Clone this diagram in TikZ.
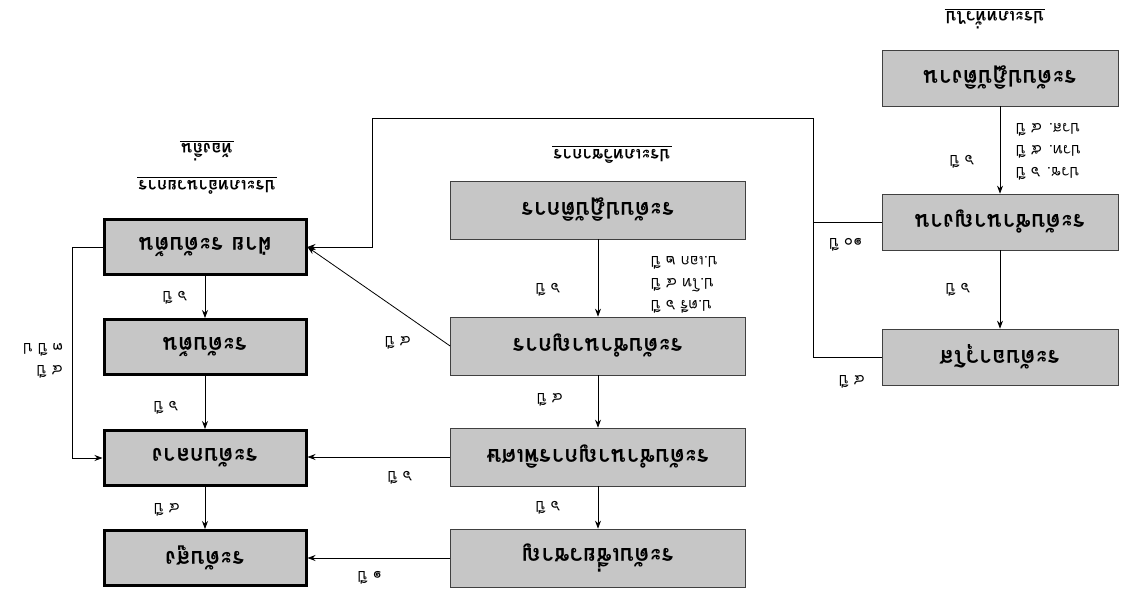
\documentclass[tikz,border=0pt]{standalone}
\usepackage{fontspec}
\newfontfamily\thai[Script=Thai]{Loma}
\usetikzlibrary{arrows.meta}
\newcommand{\rt}[1]{\rotatebox[origin=c]{180}{#1}}
\tikzset{
  box/.style={draw=black!75, line width=0.7pt, fill=gray!45, minimum width=236pt, minimum height=56pt, inner sep=0pt, font=\thai\bfseries\fontsize{23}{27}\selectfont},
  cbox/.style={box, minimum width=295pt, minimum height=58pt},
  tbox/.style={box, draw=black, line width=3pt, minimum width=202pt, minimum height=55pt},
  lbl/.style={font=\thai\fontsize{15}{22}\selectfont, inner sep=1pt},
  hdr/.style={font=\thai\bfseries\fontsize{17}{20}\selectfont, inner sep=1pt},
  conn/.style={line width=0.8pt},
  arr/.style={conn, -{Stealth[length=8pt,width=6pt]}},
}
\begin{document}
\begin{tikzpicture}[x=1pt,y=-1pt]
\useasboundingbox[fill=white] (0,0) rectangle (1128,595);
% headers
\node[hdr] (hR) at (995,20) {\rt{ประเภททั่วไป}};
\node[hdr] (hC) at (612,156) {\rt{ประเภทวิชาการ}};
\node[hdr] (hL1) at (207,152) {\rt{ท้องถิ่น}};
\node[hdr] (hL2) at (207,187) {\rt{ประเภทอำนวยการ}};
\foreach \h in {hR,hC,hL1,hL2}
  \draw[conn] ([yshift=1pt]\h.north west) -- ([yshift=1pt]\h.north east);
% boxes
\node[box] (R1) at (1000,78) {\rt{ระดับปฏิบัติงาน}};
\node[box] (R2) at (1000,222) {\rt{ระดับชำนาญงาน}};
\node[box] (R3) at (1000,357) {\rt{ระดับอาวุโส}};
\node[cbox] (C1) at (598,210) {\rt{ระดับปฏิบัติการ}};
\node[cbox] (C2) at (598,346) {\rt{ระดับชำนาญการ}};
\node[cbox] (C3) at (598,457) {\rt{ระดับชำนาญการพิเศษ}};
\node[cbox] (C4) at (598,558) {\rt{ระดับเชี่ยวชาญ}};
\node[tbox] (L1) at (205,247) {\rt{ฝ่าย ระดับต้น}};
\node[tbox] (L2) at (205,347) {\rt{ระดับต้น}};
\node[tbox] (L3) at (205,458) {\rt{ระดับกลาง}};
\node[tbox] (L4) at (205,558) {\rt{ระดับสูง}};
% vertical arrows
\draw[arr] (R1) -- (R2);
\draw[arr] (R2) -- (R3);
\draw[arr] (C1) -- (C2);
\draw[arr] (C2) -- (C3);
\draw[arr] (C3) -- (C4);
\draw[arr] (L1) -- (L2);
\draw[arr] (L2) -- (L3);
\draw[arr] (L3) -- (L4);
% horizontal / diagonal
\draw[arr] (C3.west) -- (L3.east |- C3.west);
\draw[arr] (C4.west) -- (L4.east |- C4.west);
\draw[arr] (C2.west) -- (L1.east);
\draw[arr] (L1.west) -- ++(-30,0) |- (L3.west);
\coordinate (jR) at (813,118);
\coordinate (jL) at (372,118);
\draw[conn] (R3.west) -| (jR) -- (jL);
\draw[conn] (R2.west) -- (R2.west -| jR);
\draw[arr] (jL) |- (L1.east);
% labels
\node[lbl] (lR12) at (962,162) {\rt{๖ ปี}};
\node[lbl,anchor=west] (lRs) at (1015,150) {\rt{\begin{tabular}{@{}r@{}}ปวช. ๖ ปี\\ปวท. ๕ ปี\\ปวส. ๔ ปี\end{tabular}}};
\node[lbl] (lR23) at (958,290) {\rt{๖ ปี}};
\node[lbl] (lR2L) at (846,245) {\rt{๑๐ ปี}};
\node[lbl] (lR3L) at (852,382) {\rt{๔ ปี}};
\node[lbl] (lC12) at (548,290) {\rt{๖ ปี}};
\node[lbl,anchor=west] (lCs) at (650,283) {\rt{\begin{tabular}{@{}r@{}}ป.ตรี ๖ ปี\\ป.โท ๔ ปี\\ป.เอก ๒ ปี\end{tabular}}};
\node[lbl] (lC23) at (550,400) {\rt{๔ ปี}};
\node[lbl] (lC34) at (548,508) {\rt{๖ ปี}};
\node[lbl] (lC2L) at (398,343) {\rt{๔ ปี}};
\node[lbl] (lC3L) at (400,478) {\rt{๖ ปี}};
\node[lbl] (lC4L) at (370,578) {\rt{๑ ปี}};
\node[lbl] (lL12) at (175,298) {\rt{๖ ปี}};
\node[lbl] (lL23) at (166,408) {\rt{๖ ปี}};
\node[lbl] (lL34) at (167,510) {\rt{๔ ปี}};
\node[lbl,anchor=east] (lByp) at (64,359) {\rt{\begin{tabular}{@{}l@{}}๔ ปี\\๓ ปี ป\end{tabular}}};
\end{tikzpicture}
\end{document}
